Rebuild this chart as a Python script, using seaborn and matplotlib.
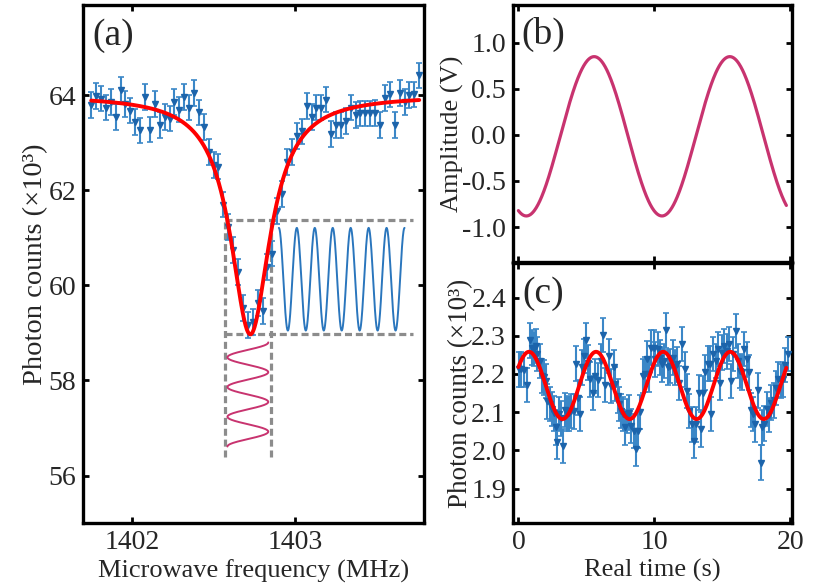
import numpy as np
import matplotlib
matplotlib.use("Agg")
import matplotlib.pyplot as plt
import seaborn as sns
from matplotlib.ticker import FormatStrFormatter

# (a) ODMR dip
freq_mhz = [
    1401.75, 1401.78, 1401.81, 1401.84, 1401.87, 1401.90, 1401.93, 1401.96, 1401.99, 1402.02,
    1402.05, 1402.08, 1402.11, 1402.14, 1402.17, 1402.20, 1402.23, 1402.26, 1402.29, 1402.32,
    1402.35, 1402.38, 1402.41, 1402.44, 1402.47, 1402.50, 1402.53, 1402.56, 1402.59, 1402.62,
    1402.65, 1402.68, 1402.71, 1402.74, 1402.77, 1402.80, 1402.83, 1402.86, 1402.89, 1402.92,
    1402.95, 1402.98, 1403.01, 1403.04, 1403.07, 1403.10, 1403.13, 1403.16, 1403.19, 1403.22,
    1403.25, 1403.28, 1403.31, 1403.34, 1403.37, 1403.40, 1403.43, 1403.46, 1403.49, 1403.52,
    1403.55, 1403.58, 1403.61, 1403.64, 1403.67, 1403.70, 1403.73, 1403.76,
]
counts_a = [
    63.79, 63.99, 63.93, 63.74, 63.86, 63.54, 64.12, 63.81, 63.68, 63.44,
    63.26, 63.96, 63.28, 63.81, 63.37, 63.54, 63.51, 63.86, 63.70, 63.96,
    63.74, 64.05, 63.64, 63.33, 62.80, 62.54, 62.50, 61.70, 61.23, 60.74,
    60.28, 59.53, 59.17, 59.23, 59.63, 59.46, 60.39, 60.67, 61.56, 61.92,
    62.60, 62.81, 63.14, 63.24, 63.77, 63.54, 63.74, 63.74, 63.91, 63.18,
    63.37, 63.37, 63.46, 63.74, 63.58, 63.62, 63.62, 63.62, 63.63, 63.37,
    63.95, 64.02, 63.37, 64.05, 63.86, 64.00, 64.02, 64.42,
]
err_a = 0.27

# (c) photon counts vs real time
time_s = [
    0.05, 0.22, 0.40, 0.64, 0.84, 1.01, 1.13, 1.28, 1.40, 1.57, 1.75, 1.89, 2.02, 2.14,
    2.31, 2.48, 2.60, 2.73, 2.82, 2.97, 3.12, 3.29, 3.41, 3.59, 3.71, 3.90, 4.08, 4.27,
    4.40, 4.52, 4.69, 4.84, 4.96, 5.13, 5.30, 5.45, 5.62, 5.87, 6.04, 6.24, 6.38,
    6.63, 6.83, 7.00, 7.12, 7.29, 7.37, 7.54, 7.69, 7.81, 7.98, 8.15, 8.30, 8.47, 8.64,
    8.79, 8.96, 9.16, 9.33, 9.45, 9.62, 9.77, 9.94, 10.07, 10.24, 10.39, 10.56, 10.68,
    10.85, 11.00, 11.17, 11.34, 11.49, 11.66, 11.83, 12.03, 12.23, 12.40, 12.57, 12.77, 12.89,
    13.09, 13.26, 13.43, 13.58, 13.75, 13.92, 14.05, 14.19, 14.31, 14.49, 14.66, 14.80,
    14.98, 15.10, 15.30, 15.47, 15.64, 15.78, 16.00, 16.15, 16.32, 16.45, 16.62, 16.77,
    16.94, 17.12, 17.26, 17.43, 17.60, 17.80, 17.92, 18.09, 18.24, 18.41, 18.59, 18.78,
    18.95, 19.07, 19.27, 19.46, 19.63, 19.80,
]
counts_c = [
    2.212, 2.212, 2.210, 2.171, 2.288, 2.269, 2.266, 2.273, 2.252, 2.234, 2.195, 2.191, 2.182, 2.128,
    2.122, 2.109, 2.097, 2.060, 2.023, 2.095, 2.084, 2.012, 2.106, 2.095, 2.097, 2.103, 2.102, 2.227,
    2.138, 2.095, 2.217, 2.247, 2.288, 2.230, 2.186, 2.150, 2.195, 2.184, 2.234, 2.302, 2.171,
    2.247, 2.169, 2.217, 2.173, 2.143, 2.122, 2.103, 2.096, 2.060, 2.090, 2.099, 2.064, 2.051, 2.003,
    2.051, 2.101, 2.195, 2.199, 2.240, 2.199, 2.269, 2.269, 2.238, 2.265, 2.243, 2.225, 2.234,
    2.314, 2.217, 2.221, 2.243, 2.217, 2.225, 2.177, 2.279, 2.212, 2.156, 2.103, 2.068, 2.025,
    2.068, 2.151, 2.055, 2.149, 2.204, 2.227, 2.227, 2.095, 2.253, 2.234, 2.265, 2.177,
    2.256, 2.273, 2.259, 2.278, 2.182, 2.252, 2.313, 2.234, 2.208, 2.204, 2.265, 2.238,
    2.204, 2.105, 2.095, 2.068, 2.157, 1.968, 2.060, 2.070, 2.108, 2.093, 2.125, 2.131,
    2.164, 2.186, 2.182, 2.186, 2.224, 2.253,
]
err_c = 0.045

# fit / model parameters estimated from the curves in the picture
lor_center, lor_hwhm, lor_base, lor_depth = 1402.725, 0.147, 64.0, 5.03
drive_amp, drive_offset, drive_period, drive_peak = 0.865, -0.015, 9.97, 5.57
resp_mean, resp_amp, resp_period, resp_peak = 2.17, 0.088, 4.93, 0.78

# dashed guide box and the two schematic insets of panel (a)
guide_levels = [61.37, 58.97]
guide_freqs = [1402.57, 1402.85]
guide_right, guide_bottom = 1403.72, 56.38
blue_inset = dict(f0=1402.90, f1=1403.67, mid=60.13, amp=1.08, periods=7)
pink_inset = dict(mid=1402.71, amp=0.125, top=58.80, bottom=56.61, periods=3.5)

BLUE = "#1c64ab"
BLUE_BAR = "#3b87c7"
PINK = "#c8336f"
GRAY = "#8c8c8c"


def style_axis(ax):
    ax.tick_params(direction="in", length=4.5, width=2, top=True, right=True,
                   labelsize=20, pad=5, color="black")
    for s in ax.spines.values():
        s.set_linewidth(2.4)
        s.set_color("black")


def panel_a(ax):
    ax.hlines(guide_levels, guide_freqs[0], guide_right, colors=GRAY, lw=2.3,
              linestyles=(0, (2.2, 1.2)), zorder=1)
    ax.vlines(guide_freqs, guide_bottom, guide_levels[0], colors=GRAY, lw=2.3,
              linestyles=(0, (2.2, 1.2)), zorder=1)

    fb = np.linspace(blue_inset["f0"], blue_inset["f1"], 600)
    ph = (fb - blue_inset["f0"]) / (blue_inset["f1"] - blue_inset["f0"])
    yb = blue_inset["mid"] + blue_inset["amp"] * np.cos(2 * np.pi * blue_inset["periods"] * ph)
    sns.lineplot(x=fb, y=yb, ax=ax, color="#2a76bd", lw=1.4, sort=False, estimator=None)

    yp = np.linspace(pink_inset["top"], pink_inset["bottom"], 400)
    ph = (pink_inset["top"] - yp) / (pink_inset["top"] - pink_inset["bottom"])
    xp = pink_inset["mid"] + pink_inset["amp"] * np.cos(2 * np.pi * pink_inset["periods"] * ph)
    sns.lineplot(x=xp, y=yp, ax=ax, color=PINK, lw=1.4, sort=False, estimator=None)

    ax.errorbar(freq_mhz, counts_a, yerr=err_a, fmt="v", ms=4.5, color=BLUE,
                ecolor=BLUE_BAR, elinewidth=1.5, capsize=2.2, capthick=1.2, zorder=3)

    ff = np.linspace(freq_mhz[0], freq_mhz[-1], 800)
    fit = lor_base - lor_depth / (1 + ((ff - lor_center) / lor_hwhm) ** 2)
    sns.lineplot(x=ff, y=fit, ax=ax, color="red", lw=2.8, zorder=4)

    ax.set_xlim(1401.70, 1403.79)
    ax.set_ylim(55.0, 65.9)
    ax.set_xticks([1402, 1403])
    ax.set_yticks([56, 58, 60, 62, 64])
    ax.set_xlabel("Microwave frequency (MHz)", fontsize=19, labelpad=3)
    ax.set_ylabel("Photon counts (×10³)", fontsize=20.5, labelpad=0)
    ax.text(0.027, 0.975, "(a)", transform=ax.transAxes, fontsize=27, ha="left", va="top")
    style_axis(ax)


def panel_b(ax):
    tt = np.linspace(0, 19.7, 600)
    amp = drive_offset + drive_amp * np.cos(2 * np.pi * (tt - drive_peak) / drive_period)
    sns.lineplot(x=tt, y=amp, ax=ax, color=PINK, lw=2.3)
    ax.set_xlim(-0.4, 20.1)
    ax.set_ylim(-1.38, 1.41)
    ax.set_xticks([0, 10, 20])
    ax.set_yticks([-1.0, -0.5, 0.0, 0.5, 1.0])
    ax.yaxis.set_major_formatter(FormatStrFormatter("%.1f"))
    ax.set_xlabel("")
    ax.set_ylabel("Amplitude (V)", fontsize=19, labelpad=-1)
    ax.text(0.03, 0.955, "(b)", transform=ax.transAxes, fontsize=27, ha="left", va="top")
    style_axis(ax)
    ax.tick_params(labelbottom=False)


def panel_c(ax):
    ax.errorbar(time_s, counts_c, yerr=err_c, fmt="v", ms=4.5, color=BLUE,
                ecolor=BLUE_BAR, elinewidth=1.5, capsize=2.2, capthick=1.2, zorder=3)
    tt = np.linspace(0, 19.7, 600)
    fit = resp_mean + resp_amp * np.cos(2 * np.pi * (tt - resp_peak) / resp_period)
    sns.lineplot(x=tt, y=fit, ax=ax, color="red", lw=2.8, zorder=4)
    ax.set_xlim(-0.4, 20.1)
    ax.set_ylim(1.81, 2.49)
    ax.set_xticks([0, 10, 20])
    ax.set_yticks([1.9, 2.0, 2.1, 2.2, 2.3, 2.4])
    ax.yaxis.set_major_formatter(FormatStrFormatter("%.1f"))
    ax.set_xlabel("Real time (s)", fontsize=19, labelpad=3)
    ax.set_ylabel("Photon counts (×10³)", fontsize=19.5, labelpad=-1)
    ax.text(0.035, 0.95, "(c)", transform=ax.transAxes, fontsize=27, ha="left", va="top")
    style_axis(ax)


def main():
    sns.set_theme(style="ticks")
    plt.rcParams["font.family"] = ["Liberation Serif", "DejaVu Serif"]
    plt.rcParams["axes.unicode_minus"] = False

    fig = plt.figure(figsize=(8.3, 5.88), dpi=100)
    ax_a = fig.add_axes([0.100, 0.1105, 0.411, 0.881])
    ax_b = fig.add_axes([0.618, 0.5544, 0.336, 0.437])
    ax_c = fig.add_axes([0.618, 0.1105, 0.336, 0.442])

    panel_a(ax_a)
    panel_b(ax_b)
    panel_c(ax_c)

    fig.savefig("out.png", dpi=100, facecolor="white")
    plt.close(fig)


if __name__ == "__main__":
    main()
